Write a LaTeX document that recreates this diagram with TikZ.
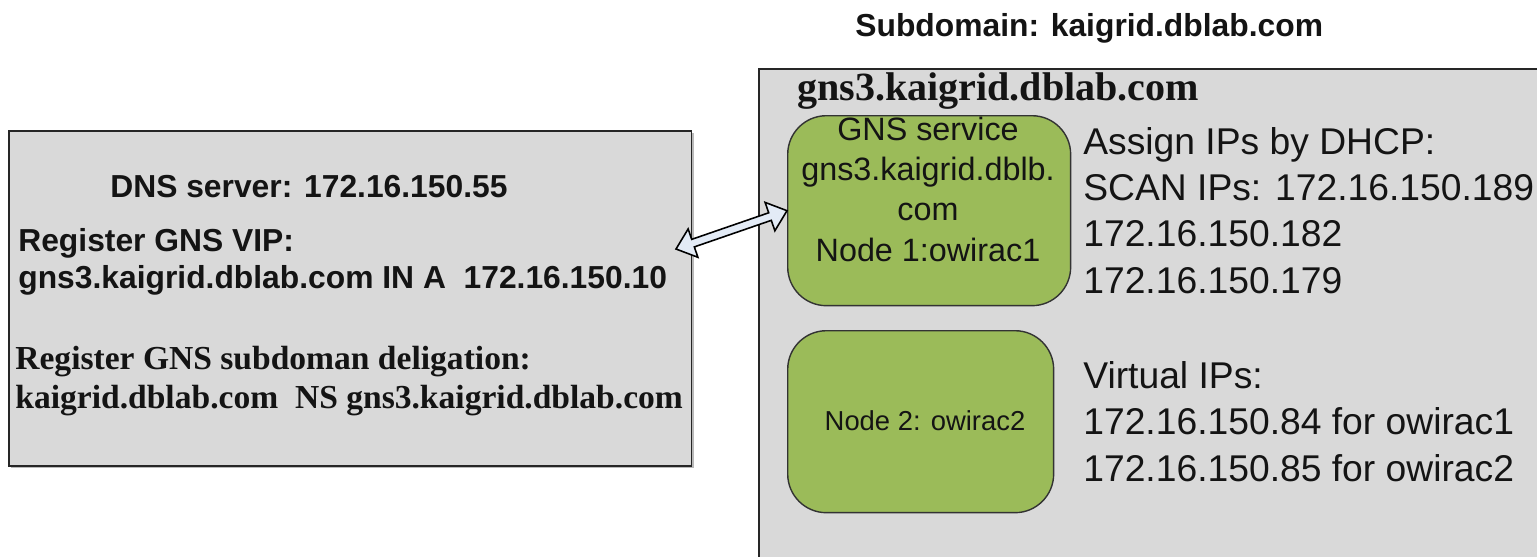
\documentclass[tikz,border=0pt]{standalone}
\usepackage{fontspec}
\setmainfont{Liberation Sans}
\newfontfamily\camb{Liberation Serif}
\usetikzlibrary{positioning,calc,shadows}
\definecolor{boxgray}{HTML}{D9D9D9}
\definecolor{nodegreen}{HTML}{9BBB59}
\definecolor{arrowblue}{HTML}{E3EBF6}
\tikzset{
  zone/.style ={rectangle, draw=black!85, fill=boxgray, line width=0.9pt, anchor=north west},
  host/.style ={rectangle, rounded corners=22pt, draw=black!80, fill=nodegreen, line width=0.8pt, anchor=north west},
  txt/.style  ={anchor=base west, inner sep=0pt, align=left, text=black!92},
  hdr/.style  ={txt, font=\bfseries\fontsize{18.1}{21}\selectfont},
  camb/.style ={txt, font=\camb\bfseries\fontsize{19.1}{22.2}\selectfont},
  ipl/.style  ={txt, font=\fontsize{21.2}{26.2}\selectfont},
  link/.style ={draw=black, fill=arrowblue, line width=0.9pt, line join=miter},
}

\begin{document}
\begin{tikzpicture}[x=0.02cm, y=-0.02cm]
\useasboundingbox (0,0) rectangle (1537,556);
\clip (0,0) rectangle (1537,556);
% boxes
\node[zone, drop shadow={shadow xshift=1.3pt, shadow yshift=-1.3pt, opacity=0.55}, minimum width=13.66cm, minimum height=6.7cm] (dns) at (8,130) {};
\node[zone, minimum width=16cm, minimum height=10.5cm] (sub) at (758,68) {};
\node[host, minimum width=5.66cm, minimum height=3.8cm] (gns) at (787,115) {};
\node[host, minimum width=5.32cm, minimum height=3.64cm] (rac2) at (787,330) {};
% texts (multi-line nodes sit on the baseline of their last line)
\node[hdr] (subttl) at (855,36) {Subdomain: kaigrid.dblab.com};
\node[txt, font=\camb\bfseries\fontsize{22.8}{26}\selectfont] (gnsttl) at (797,100) {gns3.kaigrid.dblab.com};
\node[hdr] (dnsip) at (110,197) {DNS server: 172.16.150.55};
\node[hdr] (vip) at (18,288) {Register GNS VIP:\\gns3.kaigrid.dblab.com IN A\ \ 172.16.150.10};
\node[camb] (deleg) at (15,408) {Register GNS subdoman deligation:\\kaigrid.dblab.com\ \ NS gns3.kaigrid.dblab.com};
\node[inner sep=0pt, anchor=base, align=center, text=black!92, font=\fontsize{18.4}{22.8}\selectfont] (gnstxt) at (928,261) {GNS service\\gns3.kaigrid.dblb.\\com\\Node 1:owirac1};
\node[inner sep=0pt, anchor=base, text=black!92, font=\fontsize{15.6}{18}\selectfont] (rac2txt) at (925,430) {Node 2: owirac2};
\node[ipl] (dhcp) at (1083,293) {Assign IPs by DHCP:\\SCAN IPs: 172.16.150.189\\172.16.150.182\\172.16.150.179};
\node[ipl] (vips) at (1083,481) {Virtual IPs:\\172.16.150.84 for owirac1\\172.16.150.85 for owirac2};
% two-way link
\coordinate (tipL) at (676,249);
\coordinate (tipR) at (gns.west);
\draw[link] (tipL)
  -- ($(tipL)!0.36cm!(tipR)!0.3cm!90:(tipR)$)
  -- ($(tipL)!0.36cm!(tipR)!0.08cm!90:(tipR)$)
  -- ($(tipR)!0.36cm!(tipL)!0.08cm!-90:(tipL)$)
  -- ($(tipR)!0.36cm!(tipL)!0.3cm!-90:(tipL)$)
  -- (tipR)
  -- ($(tipR)!0.36cm!(tipL)!0.3cm!90:(tipL)$)
  -- ($(tipR)!0.36cm!(tipL)!0.08cm!90:(tipL)$)
  -- ($(tipL)!0.36cm!(tipR)!0.08cm!-90:(tipR)$)
  -- ($(tipL)!0.36cm!(tipR)!0.3cm!-90:(tipR)$)
  -- cycle;
\end{tikzpicture}
\end{document}
